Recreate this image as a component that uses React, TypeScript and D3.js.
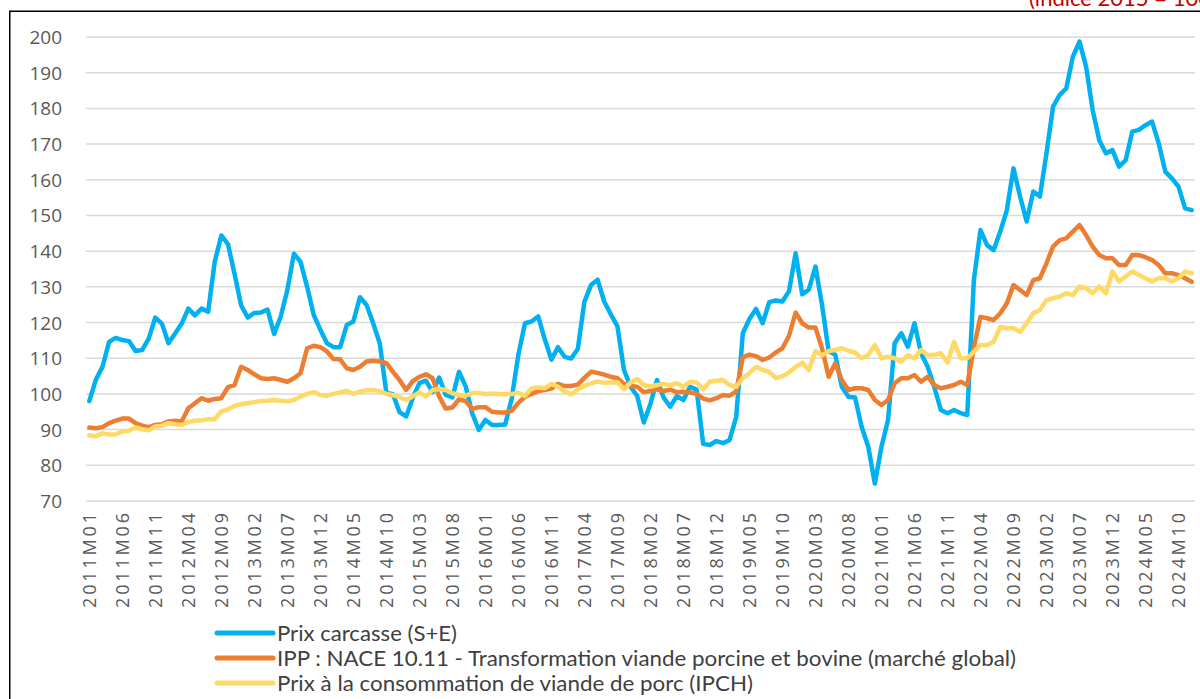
import React, { useEffect, useRef } from 'react';
import * as d3 from 'd3';

// monthly categories 2011M01 .. 2024M12
const months: string[] = [];
for (let y = 2011; y <= 2024; y++) {
  for (let m = 1; m <= 12; m++) months.push(`${y}M${String(m).padStart(2, '0')}`);
}

const xTickLabels = [
  '2011M01', '2011M06', '2011M11', '2012M04', '2012M09', '2013M02', '2013M07', '2013M12',
  '2014M05', '2014M10', '2015M03', '2015M08', '2016M01', '2016M06', '2016M11', '2017M04',
  '2017M09', '2018M02', '2018M07', '2018M12', '2019M05', '2019M10', '2020M03', '2020M08',
  '2021M01', '2021M06', '2021M11', '2022M04', '2022M09', '2023M02', '2023M07', '2023M12',
  '2024M05', '2024M10',
];

const yTicks = [70, 80, 90, 100, 110, 120, 130, 140, 150, 160, 170, 180, 190, 200];

const seriesNames = [
  'Prix carcasse (S+E)',
  'IPP : NACE 10.11 - Transformation viande porcine et bovine (marché global)',
  'Prix à la consommation de viande de porc (IPCH)',
];
const seriesColors = ['#00b0f0', '#ed7d31', '#ffd966'];

const carcasse = [
  98, 104, 107.6, 114.6, 115.7, 115.1, 114.8, 112, 112.3, 115.5, 121.4, 119.7,
  114.2, 116.9, 119.7, 123.9, 122, 123.9, 123, 137, 144.4, 142, 133.7, 124.8,
  121.4, 122.7, 122.8, 123.6, 116.8, 121.7, 129.1, 139.3, 137, 130, 122.1, 118,
  114.2, 113.1, 113.1, 119.3, 120.3, 127.1, 124.9, 119.8, 114.2, 100.3, 99.9, 94.9,
  93.7, 98.8, 103, 103.7, 100.5, 104.6, 99.7, 99, 106.2, 102.2, 94.6, 89.9,
  92.7, 91.3, 91.3, 91.4, 98.8, 111, 119.8, 120.3, 121.7, 115.3, 109.6, 113.1,
  110.4, 109.9, 112.6, 125.8, 130.5, 132, 125.9, 122.3, 119, 106.7, 102, 99.4,
  92, 97.2, 103.9, 99, 96.4, 99.4, 98.3, 102, 101.2, 86, 85.7, 86.8,
  86.2, 87.1, 93.6, 117, 121, 123.8, 119.8, 125.7, 126.2, 125.9, 128.8, 139.4,
  127.9, 129.2, 135.7, 124.9, 112, 111, 102, 99.2, 99, 90.8, 85.2, 74.9,
  85.2, 92.7, 114.2, 117, 113.2, 119.8, 111.4, 107.6, 102, 95.5, 94.6, 95.5,
  94.6, 94.1, 131.9, 145.9, 141.7, 140.3, 145.5, 151.5, 163.2, 155.3, 148.3, 156.7,
  155.3, 167.4, 180.5, 183.8, 185.6, 194.5, 198.7, 191.7, 179.5, 171.1, 167.4, 168.3,
  163.7, 165.5, 173.5, 174, 175.3, 176.3, 170.2, 162.3, 160.4, 158.1, 152, 151.5,
];

const ipp = [
  90.6, 90.4, 90.7, 91.8, 92.5, 93.1, 93.1, 91.8, 91.1, 90.7, 91.3, 91.5,
  92.3, 92.5, 92.3, 96, 97.4, 98.8, 98.1, 98.6, 98.8, 101.9, 102.5, 107.6,
  106.7, 105.5, 104.4, 104.2, 104.4, 103.9, 103.4, 104.4, 105.8, 112.8, 113.5, 113.1,
  111.9, 109.8, 109.7, 107.2, 106.7, 107.6, 109.1, 109.3, 109.1, 108.6, 106.2, 103.9,
  101.1, 103.6, 104.8, 105.5, 104.4, 99.3, 95.9, 96.2, 98.5, 98, 95.8, 96.3,
  96.3, 95, 94.8, 94.8, 95.3, 97.5, 99.2, 100, 100.8, 101.1, 101.5, 102.8,
  102.2, 102.2, 102.6, 104.5, 106.2, 105.9, 105.4, 104.8, 104.4, 102.8, 102.2, 102,
  100.5, 100.8, 101.3, 100.8, 101.2, 100.5, 100.6, 100.4, 100, 98.7, 98.2, 98.8,
  99.7, 99.5, 100.7, 110.3, 111, 110.6, 109.5, 110.2, 111.6, 112.8, 116.3, 122.8,
  119.8, 118.6, 118.6, 112.8, 104.8, 108.6, 103.9, 101.1, 101.6, 101.6, 101.1, 98.3,
  96.9, 98.3, 103, 104.4, 104.4, 105.3, 103.4, 104.8, 102.5, 101.6, 102, 102.5,
  103.4, 102.5, 113, 121.6, 121.2, 120.7, 122.6, 125.4, 130.5, 129.1, 127.7, 131.9,
  132.4, 136.6, 141.3, 143.1, 143.6, 145.5, 147.3, 144.5, 141.3, 138.9, 138, 138,
  136.1, 136.1, 138.9, 138.9, 138.3, 137.5, 136.1, 133.8, 133.8, 133.3, 132.4, 131.4,
];

const ipch = [
  88.4, 88.1, 89, 88.6, 88.7, 89.5, 89.7, 90.6, 90.1, 89.8, 90.9, 91.1,
  91.8, 91.5, 91.3, 92.1, 92.5, 92.6, 92.9, 92.9, 95.1, 95.7, 96.7, 97.1,
  97.4, 97.7, 98, 98.1, 98.3, 98.1, 97.9, 98.3, 99.3, 100, 100.5, 99.7,
  99.5, 100, 100.4, 100.9, 100, 100.7, 101, 101.1, 100.7, 100, 99.7, 99.1,
  98.3, 99.3, 100.4, 99.3, 101.1, 101.4, 101.1, 100.2, 99.7, 99.5, 100.2, 100.3,
  100, 100.1, 100, 99.9, 100, 100.3, 99.4, 101.5, 101.8, 101.6, 102.8, 102,
  100.7, 99.9, 101.2, 102.2, 103, 103.5, 103.1, 103.2, 103.3, 101.3, 103.2, 104.2,
  102.5, 102, 102.5, 102.8, 102.5, 103, 102, 103.4, 103.2, 101.3, 103.4, 103.7,
  103.9, 102.5, 102, 104.4, 105.8, 107.6, 106.7, 106.2, 104.4, 105, 106, 107.6,
  108.8, 106.7, 112, 110.8, 112, 112.3, 112.8, 112.1, 111.6, 110, 110.9, 113.7,
  110, 110.4, 110, 109, 110.9, 110, 112.3, 110.9, 110.9, 111.4, 108.8, 114.6,
  110, 110, 111.8, 113.7, 113.7, 114.6, 118.8, 118.4, 118.4, 117.4, 119.8, 122.6,
  123.5, 126.3, 126.8, 127.3, 128.2, 127.7, 130.1, 129.6, 128.2, 130.1, 128.2, 134.3,
  131.5, 132.9, 134.3, 133.3, 132.4, 131.5, 132.4, 132.4, 131.5, 132.4, 134.3, 133.8,
];

const allSeries = [carcasse, ipp, ipch];

const W = 1200;
const H = 699;

const App = () => {
  const ref = useRef<SVGSVGElement | null>(null);

  useEffect(() => {
    if (!ref.current) return;
    const svg = d3.select(ref.current);
    svg.selectAll('*').remove();

    const x = d3.scaleBand<string>().domain(months).range([86, 1195]).padding(0);
    const cx = (m: string) => (x(m) as number) + x.bandwidth() / 2;
    const y = d3.scaleLinear().domain([70, 200]).range([501, 37]);

    svg.append('rect')
      .attr('width', W).attr('height', H).attr('fill', '#fff');

    // red subtitle, mostly cut by the top of the picture (as in the source)
    svg.append('text')
      .attr('x', 1029).attr('y', 6)
      .attr('font-family', 'Lato, "Open Sans", sans-serif')
      .attr('font-size', 22)
      .attr('fill', '#c00000')
      .text('(indice 2015 = 100)');

    svg.append('rect')
      .attr('x', 9.75).attr('y', 11.25)
      .attr('width', 1400).attr('height', 900)
      .attr('fill', 'none').attr('stroke', '#000').attr('stroke-width', 1.5);

    // gridlines
    svg.append('g')
      .selectAll('line')
      .data(yTicks)
      .enter()
      .append('line')
        .attr('x1', 86).attr('x2', 1195)
        .attr('y1', d => y(d)).attr('y2', d => y(d))
        .attr('stroke', '#d9d9d9').attr('stroke-width', 1.5);

    svg.append('g')
      .selectAll('text')
      .data(yTicks)
      .enter()
      .append('text')
        .attr('x', 62)
        .attr('y', d => y(d))
        .attr('text-anchor', 'end')
        .attr('dominant-baseline', 'central')
        .attr('font-family', '"Open Sans", sans-serif')
        .attr('font-size', 19)
        .attr('fill', '#595959')
        .text(d => d);

    svg.append('g')
      .selectAll('text')
      .data(xTickLabels)
      .enter()
      .append('text')
        .attr('transform', d => `translate(${cx(d)}, 513) rotate(-90)`)
        .attr('text-anchor', 'end')
        .attr('dominant-baseline', 'central')
        .attr('font-family', '"Open Sans", sans-serif')
        .attr('font-size', 18)
        .attr('textLength', 95)
        .attr('lengthAdjust', 'spacing')
        .attr('fill', '#595959')
        .text(d => d);

    const line = d3.line<number>()
      .x((_, i) => cx(months[i]))
      .y(d => y(d));

    allSeries.forEach((s, k) => {
      svg.append('path')
        .datum(s)
        .attr('d', line)
        .attr('fill', 'none')
        .attr('stroke', seriesColors[k])
        .attr('stroke-width', 4.5)
        .attr('stroke-linejoin', 'round')
        .attr('stroke-linecap', 'round');
    });

    // legend
    const legendY = [633, 658, 683];
    const legendW = [180, 739, 476];
    const lg = svg.append('g');
    seriesNames.forEach((name, k) => {
      lg.append('line')
        .attr('x1', 217).attr('x2', 273)
        .attr('y1', legendY[k]).attr('y2', legendY[k])
        .attr('stroke', seriesColors[k]).attr('stroke-width', 5)
        .attr('stroke-linecap', 'round');
      lg.append('text')
        .attr('x', 277).attr('y', legendY[k])
        .attr('dominant-baseline', 'central')
        .attr('font-family', 'Lato, sans-serif')
        .attr('font-size', 20.5)
        .attr('textLength', legendW[k])
        .attr('lengthAdjust', 'spacingAndGlyphs')
        .attr('fill', '#404040')
        .text(name);
    });
  }, []);

  return (
    <svg
      ref={ref}
      width={W}
      height={H}
      style={{ position: 'absolute', left: 0, top: 0, display: 'block' }}
    />
  );
};

export default App;
